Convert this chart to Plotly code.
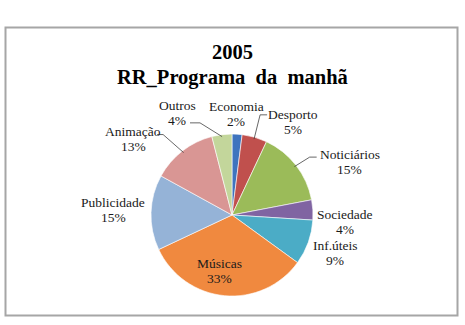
import math
import plotly.graph_objects as go

labels = ["Economia", "Desporto", "Noticiários", "Sociedade", "Inf.úteis",
          "Músicas", "Publicidade", "Animação", "Outros"]
values = [2, 5, 15, 4, 9, 33, 15, 13, 4]
title_lines = ["2005", "RR_Programa  da  manhã"]

# styles / placement (kept apart from the data)
colors = ["#3F74BE", "#C0504D", "#9BBB59", "#8064A2", "#4BACC6",
          "#F0893F", "#95B3D7", "#D99694", "#C3D69B"]
# label placement: angle nudge (deg) from slice mid-angle, distance (px) from centre
label_nudge = [-1.3, 17.2, 13.6, 6.9, 0.2, 6.8, 0.8, -14.5, -21.1]
label_dist = [101, 111, 129, 113, 110, 57, 119, 125, 116]
# connector: (tick start dx, tick end dx, dy) relative to label centre, or None
connectors = [None, (-26, -33, -7.5), (-33, -40, -5), None, None, None, None,
              (24, 30, -4), (13, 23, 10)]

W, H = 465, 325
cx, cy, r = 232, 215, 81
FONT = "Liberation Serif, Times New Roman, serif"

def px(x):
    return x / W

def py(y):
    return 1 - y / H

fig = go.Figure(go.Pie(
    labels=labels, values=values, sort=False, direction="clockwise", rotation=0,
    marker=dict(colors=colors, line=dict(color="white", width=0.6)),
    textinfo="none",
    domain=dict(x=[px(cx - r), px(cx + r)], y=[py(cy + r), py(cy - r)]),
    showlegend=False, hoverinfo="skip",
))

annotations = []
shapes = [dict(type="rect", xref="paper", yref="paper",
               x0=px(5.5), x1=px(457.5), y0=py(315.5), y1=py(27.5),
               line=dict(color="#A6A6A6", width=2), fillcolor="rgba(0,0,0,0)")]

for i, t in enumerate(title_lines):
    annotations.append(dict(text="<b>%s</b>" % t, x=0.5, y=py(52 + 25 * i),
                            xref="paper", yref="paper", showarrow=False,
                            xanchor="center", yanchor="middle",
                            font=dict(family=FONT, size=20.5, color="black")))

total = sum(values)
cum = 0
for i, (lab, v) in enumerate(zip(labels, values)):
    mid = (cum + v / 2) / total * 360
    cum += v
    a = math.radians(mid + label_nudge[i])
    lx = cx + label_dist[i] * math.sin(a)
    ly = cy - label_dist[i] * math.cos(a)
    pct = "%d%%" % round(100 * v / total)
    for txt, dy in ((lab, -7.5), (pct, 7.5)):
        annotations.append(dict(text=txt, x=px(lx), y=py(ly + dy), xref="paper", yref="paper",
                                showarrow=False, xanchor="center", yanchor="middle",
                                font=dict(family=FONT, size=13.5, color="#1a1a1a")))
    c = connectors[i]
    if c is not None:
        am = math.radians(mid)
        ex = cx + (r - 2) * math.sin(am)
        ey = cy - (r - 2) * math.cos(am)
        x1, x2, dy = lx + c[0], lx + c[1], ly + c[2]
        path = "M %f,%f L %f,%f L %f,%f" % (px(x1), py(dy), px(x2), py(dy), px(ex), py(ey))
        shapes.append(dict(type="path", xref="paper", yref="paper", path=path,
                           line=dict(color="#404040", width=0.8)))

fig.update_layout(
    width=W, height=H, margin=dict(l=0, r=0, t=0, b=0),
    paper_bgcolor="white", plot_bgcolor="white",
    font=dict(family=FONT),
    shapes=shapes, annotations=annotations,
)
fig.write_html("out.html")
